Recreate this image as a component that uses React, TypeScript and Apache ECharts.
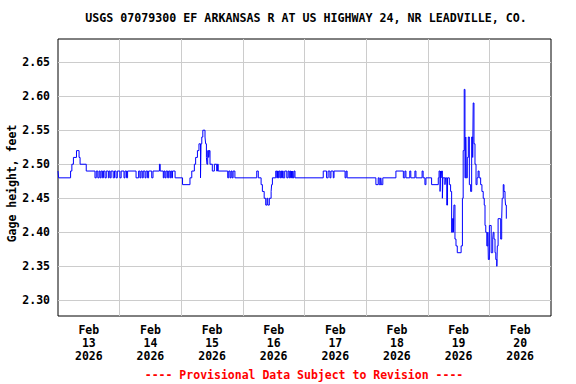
import React, { useEffect, useRef } from "react";
import * as echarts from "echarts";

const TITLE = "USGS 07079300 EF ARKANSAS R AT US HIGHWAY 24, NR LEADVILLE, CO.";
const Y_NAME = "Gage height, feet";
const FOOTNOTE = "---- Provisional Data Subject to Revision ----";
const MONTH = "Feb";
const YEAR = "2026";
const DAY_NUMBERS = ["13", "14", "15", "16", "17", "18", "19", "20"];
const DAY_GRID_HOURS = [24, 48, 72, 96, 120, 144, 168];
const DAY_LABEL_HOURS = [12, 36, 60, 84, 108, 132, 156, 180];
const Y_TICKS = [2.3, 2.35, 2.4, 2.45, 2.5, 2.55, 2.6, 2.65];
const Y_MIN = 2.277;
const Y_MAX = 2.684;
const X_MAX_HOURS = 192;

// Gage readings as [hours since Feb 13 00:00, gage height ft]; value held until next reading
const feb13: [number, number][] = [
  [0, 2.49], [0.25, 2.48], [4.9, 2.49], [5.4, 2.5], [6.0, 2.51], [7.2, 2.52], [8.2, 2.51],
  [8.6, 2.5], [11.0, 2.49],
  [14.4, 2.48], [14.9, 2.49], [15.5, 2.48], [16.0, 2.49], [16.4, 2.48], [16.8, 2.49],
  [17.3, 2.48], [17.7, 2.49], [18.3, 2.48], [18.8, 2.49], [19.6, 2.48], [19.9, 2.49],
  [20.3, 2.48], [20.7, 2.49], [21.5, 2.48], [22.0, 2.49], [22.6, 2.48], [23.1, 2.49],
];
const feb14: [number, number][] = [
  [24.1, 2.48], [24.6, 2.49], [25.7, 2.48], [26.1, 2.49], [26.7, 2.48], [27.1, 2.49],
  [30.4, 2.48], [31.4, 2.49], [31.9, 2.48], [32.3, 2.49], [32.8, 2.48], [33.2, 2.49],
  [33.9, 2.48], [34.3, 2.49], [34.9, 2.48], [35.3, 2.49], [36.5, 2.48], [37.0, 2.49],
  [39.5, 2.5], [39.8, 2.49], [41.0, 2.48], [41.3, 2.49], [41.7, 2.48], [42.1, 2.49],
  [42.7, 2.48], [43.1, 2.49], [43.6, 2.48], [43.9, 2.49], [44.3, 2.48], [44.6, 2.49],
  [45.6, 2.48],
];
const feb15: [number, number][] = [
  [48.5, 2.47], [51.4, 2.48], [52.1, 2.49], [53.1, 2.5], [53.6, 2.51], [54.3, 2.52],
  [54.9, 2.53], [55.5, 2.48], [55.7, 2.53], [56.0, 2.54], [56.4, 2.55], [57.25, 2.54],
  [57.5, 2.53], [57.8, 2.51], [58.0, 2.5], [58.3, 2.52], [58.7, 2.51], [58.9, 2.52],
  [59.2, 2.5], [60.1, 2.49], [60.9, 2.5], [61.8, 2.49], [62.1, 2.5], [62.4, 2.49],
  [66.1, 2.48], [66.5, 2.49], [67.0, 2.48], [67.4, 2.49], [67.8, 2.48], [68.2, 2.49],
  [68.9, 2.48],
];
const feb16: [number, number][] = [
  [77.4, 2.49], [78.0, 2.48], [79.1, 2.47], [79.6, 2.46], [80.3, 2.45], [80.9, 2.44],
  [81.4, 2.45], [81.7, 2.44], [82.3, 2.45], [83.0, 2.46], [83.2, 2.47], [83.5, 2.48],
  [84.8, 2.49], [85.2, 2.48], [85.5, 2.49], [85.8, 2.48], [86.1, 2.49], [86.5, 2.48],
  [86.8, 2.49], [87.1, 2.48], [87.4, 2.49], [87.7, 2.48], [88.3, 2.49], [89.1, 2.48],
  [89.6, 2.49], [90.0, 2.48], [90.3, 2.49], [90.6, 2.48], [90.9, 2.49], [91.1, 2.48],
  [91.4, 2.49], [91.6, 2.48], [91.9, 2.49], [92.3, 2.48],
];
const feb17: [number, number][] = [
  [103.3, 2.49], [104.6, 2.48], [105.2, 2.49], [105.9, 2.48], [106.3, 2.49], [107.2, 2.48],
  [107.5, 2.49], [111.8, 2.48], [112.2, 2.49], [112.6, 2.48],
];
const feb18: [number, number][] = [
  [123.8, 2.47], [124.7, 2.48], [125.1, 2.47], [125.7, 2.48], [125.9, 2.47], [126.5, 2.48],
  [131.6, 2.49], [134.5, 2.48], [135.1, 2.49], [135.5, 2.48], [137.0, 2.49], [137.4, 2.48],
  [139.0, 2.49], [139.4, 2.48], [141.8, 2.49], [142.2, 2.48], [142.9, 2.47], [143.3, 2.48],
];
const feb19: [number, number][] = [
  [145.5, 2.47], [148.1, 2.48], [148.4, 2.49], [148.8, 2.46], [149.0, 2.49], [149.2, 2.48],
  [149.4, 2.49], [149.7, 2.45], [149.9, 2.48], [150.7, 2.47], [150.9, 2.48], [151.4, 2.44],
  [151.7, 2.48], [152.4, 2.47], [152.9, 2.46], [153.3, 2.4], [153.6, 2.42], [154.0, 2.4],
  [154.2, 2.44], [154.6, 2.39], [155.0, 2.38], [155.5, 2.37], [157.0, 2.38], [157.5, 2.45],
  [157.8, 2.52], [158.2, 2.61], [158.5, 2.48], [158.8, 2.54], [159.0, 2.48], [159.4, 2.51],
  [159.8, 2.54], [160.2, 2.47], [160.7, 2.46], [161.1, 2.54], [161.5, 2.51], [161.7, 2.59],
  [162.0, 2.53], [162.4, 2.5], [162.8, 2.47], [163.2, 2.48], [163.6, 2.49], [164.0, 2.48],
  [164.6, 2.47], [165.1, 2.46], [165.6, 2.45], [166.0, 2.44], [166.3, 2.41], [166.6, 2.4],
  [167.0, 2.38], [167.4, 2.4], [167.6, 2.36], [168.0, 2.41],
];
const feb20: [number, number][] = [
  [168.7, 2.37], [169.3, 2.39], [169.5, 2.4], [169.8, 2.39], [170.2, 2.37], [170.5, 2.36],
  [170.9, 2.35], [171.1, 2.38], [171.4, 2.42], [172.4, 2.39], [172.8, 2.42], [173.0, 2.45],
  [173.4, 2.47], [173.7, 2.46], [174.1, 2.45], [174.3, 2.44], [174.6, 2.42],
];

const readings = [...feb13, ...feb14, ...feb15, ...feb16, ...feb17, ...feb18, ...feb19, ...feb20];

const FONT = "'DejaVu Sans Mono', 'Liberation Mono', monospace";

export default function App() {
  const ref = useRef<HTMLDivElement>(null);
  useEffect(() => {
    if (!ref.current) return;
    const chart = echarts.init(ref.current, null, { renderer: "svg" });
    chart.setOption({
      animation: false,
      backgroundColor: "#ffffff",
      grid: {
        left: 58,
        right: 25,
        top: 39,
        bottom: 68,
        containLabel: false,
        outerBoundsMode: "none",
        show: true,
        borderColor: "#000000",
        borderWidth: 1,
        backgroundColor: "transparent",
      },
      xAxis: {
        type: "value",
        min: 0,
        max: X_MAX_HOURS,
        axisLine: { show: false },
        axisTick: { show: false, customValues: DAY_GRID_HOURS },
        splitLine: { show: true, lineStyle: { color: "#cccccc", width: 1 } },
        axisLabel: {
          customValues: DAY_LABEL_HOURS,
          formatter: (v: number) => {
            const i = Math.round((v - 12) / 24);
            return `${MONTH}\n${DAY_NUMBERS[i]}\n${YEAR}`;
          },
          fontFamily: FONT,
          fontWeight: "bold",
          fontSize: 11.5,
          lineHeight: 12.7,
          color: "#000000",
          margin: 8,
        },
      },
      yAxis: {
        type: "value",
        min: Y_MIN,
        max: Y_MAX,
        axisLine: { show: false },
        axisTick: { show: false, customValues: Y_TICKS },
        splitLine: { show: true, lineStyle: { color: "#cccccc", width: 1 } },
        axisLabel: {
          customValues: Y_TICKS,
          formatter: (v: number) => v.toFixed(2),
          fontFamily: FONT,
          fontWeight: "bold",
          fontSize: 11.5,
          color: "#000000",
          margin: 8,
        },
      },
      graphic: [
        {
          type: "text",
          x: 306,
          y: 18,
          style: {
            text: TITLE,
            fontFamily: FONT,
            fontWeight: "bold",
            fontSize: 11.65,
            fill: "#000000",
            textAlign: "center",
            textVerticalAlign: "middle",
          },
        },
        {
          type: "text",
          x: 11.5,
          y: 183.5,
          rotation: Math.PI / 2,
          style: {
            text: Y_NAME,
            fontFamily: FONT,
            fontWeight: "bold",
            fontSize: 11.5,
            fill: "#000000",
            textAlign: "center",
            textVerticalAlign: "middle",
          },
        },
        {
          type: "text",
          x: 304,
          y: 375,
          style: {
            text: FOOTNOTE,
            fontFamily: FONT,
            fontWeight: "bold",
            fontSize: 11.5,
            fill: "#ff0000",
            textAlign: "center",
            textVerticalAlign: "middle",
          },
        },
      ],
      series: [
        {
          type: "line",
          data: readings,
          step: "end",
          showSymbol: false,
          symbol: "none",
          lineStyle: { color: "#0000ff", width: 1 },
          silent: true,
        },
      ],
    });
    return () => chart.dispose();
  }, []);
  return (
    <div
      ref={ref}
      style={{ position: "fixed", left: 0, top: 0, width: 576, height: 384, background: "#fff" }}
    />
  );
}
